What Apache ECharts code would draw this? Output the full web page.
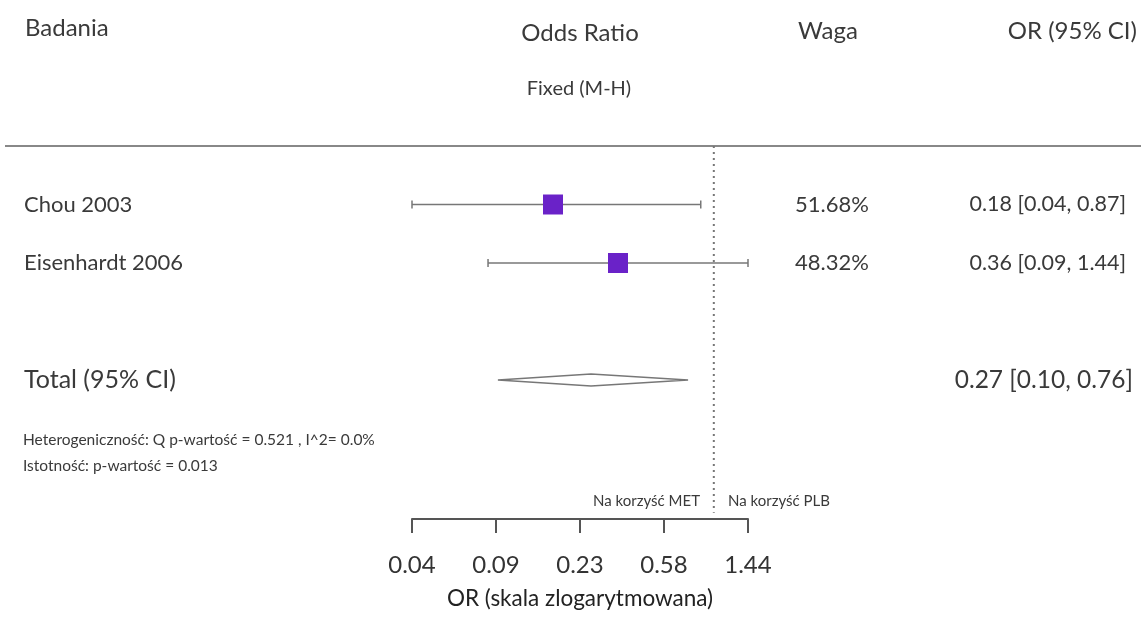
<!DOCTYPE html>
<html lang="pl">
<head>
<meta charset="UTF-8">
<style>
    html, body { height: 100%; margin: 0; background: #fff; }
</style>
</head>
<body>
<div id="chart" style="width:1141px;height:623px;"></div>
<script src="https://cdn.jsdelivr.net/npm/echarts@6/dist/echarts.min.js"></script>
<script>
    // dane z wykresu
    var studies = ['Chou 2003', 'Eisenhardt 2006'];
    var orValues = [0.18, 0.36];
    var ciLow = [0.04, 0.09];
    var ciHigh = [0.87, 1.44];
    var weights = ['51.68%', '48.32%'];
    var orLabels = ['0.18 [0.04, 0.87]', '0.36 [0.09, 1.44]'];
    var studyRows = [1, 2];

    var totalOR = 0.27, totalLow = 0.10, totalHigh = 0.76;
    var totalLabel = '0.27 [0.10, 0.76]';
    var totalRow = 4;

    var axisMinOR = 0.04, axisMaxOR = 1.44;
    var tickLabels = ['0.04', '0.09', '0.23', '0.58', '1.44'];

    var FONT = 'Lato, "Open Sans", sans-serif';
    var TXT = '#3a3a3a';

    // pozycja na osi (skala logarytmiczna, 4 przedziały)
    function pos(or) {
        return Math.log(or / axisMinOR) / Math.log(axisMaxOR / axisMinOR) * 4;
    }

    var studyData = studies.map(function (s, i) {
        return [pos(ciLow[i]), pos(orValues[i]), pos(ciHigh[i]), studyRows[i], i];
    });

    function txt(x, y, text, size, align) {
        return {
            type: 'text', x: x, y: y,
            style: { text: text, fontSize: size, fill: TXT, fontFamily: FONT, align: align || 'left', verticalAlign: 'middle' }
        };
    }

    var myChart = echarts.init(document.getElementById('chart'));
    myChart.setOption({
        animation: false,
        grid: { left: 412, right: 393, top: 146, bottom: 104 },
        xAxis: {
            type: 'value',
            position: 'bottom',
            min: 0,
            max: 4,
            interval: 1,
            splitLine: { show: false },
            axisLine: { onZero: false, lineStyle: { color: '#555', width: 2 } },
            axisTick: { length: 14, lineStyle: { color: '#555', width: 2 } },
            axisLabel: {
                margin: 34,
                fontSize: 24,
                color: '#333',
                fontFamily: FONT,
                formatter: function (v) { return tickLabels[Math.round(v)]; }
            },
            name: 'OR (skala zlogarytmowana)',
            nameLocation: 'middle',
            nameGap: 68,
            nameTextStyle: { fontSize: 22.5, color: '#222', fontFamily: FONT }
        },
        yAxis: { type: 'value', min: 0, max: 6.376, inverse: true, show: false },
        graphic: [
            { type: 'line', shape: { x1: 5, y1: 146, x2: 1141, y2: 146 }, style: { stroke: '#888', lineWidth: 2 } },
            txt(25, 28, 'Badania', 24),
            txt(580, 33, 'Odds Ratio', 24, 'center'),
            txt(828, 31, 'Waga', 24, 'center'),
            txt(1137, 31, 'OR (95% CI)', 24, 'right'),
            txt(579, 89, 'Fixed (M-H)', 20, 'center'),
            txt(23, 440, 'Heterogeniczność: Q p-wartość = 0.521 , I^2= 0.0%', 15.5),
            txt(23, 466, 'Istotność: p-wartość = 0.013', 15.5),
            txt(700, 501, 'Na korzyść MET', 15, 'right'),
            txt(728, 501, 'Na korzyść PLB', 15)
        ],
        series: [
            {
                // linia braku efektu (OR = 1)
                type: 'line',
                data: [[pos(1), 0], [pos(1), 6.27]],
                symbol: 'none',
                lineStyle: { color: '#777', width: 2, type: [2, 4] },
                silent: true
            },
            {
                type: 'custom',
                data: studyData,
                renderItem: function (params, api) {
                    var lo = api.coord([api.value(0), api.value(3)]);
                    var pt = api.coord([api.value(1), api.value(3)]);
                    var hi = api.coord([api.value(2), api.value(3)]);
                    var i = api.value(4);
                    var y = pt[1];
                    var sz = 20;
                    var lineStyle = { stroke: '#777', lineWidth: 1.5 };
                    return {
                        type: 'group',
                        children: [
                            { type: 'line', shape: { x1: lo[0], y1: y, x2: hi[0], y2: y }, style: lineStyle },
                            { type: 'line', shape: { x1: lo[0], y1: y - 4, x2: lo[0], y2: y + 4 }, style: lineStyle },
                            { type: 'line', shape: { x1: hi[0], y1: y - 4, x2: hi[0], y2: y + 4 }, style: lineStyle },
                            { type: 'rect', shape: { x: pt[0] - sz / 2, y: y - sz / 2, width: sz, height: sz }, style: { fill: '#6a22c8' } },
                            txt(24, y, studies[i], 22),
                            txt(832, y, weights[i], 22, 'center'),
                            txt(1126, y, orLabels[i], 21.5, 'right')
                        ]
                    };
                }
            },
            {
                type: 'custom',
                data: [[pos(totalLow), pos(totalOR), pos(totalHigh), totalRow]],
                renderItem: function (params, api) {
                    var lo = api.coord([api.value(0), api.value(3)]);
                    var pt = api.coord([api.value(1), api.value(3)]);
                    var hi = api.coord([api.value(2), api.value(3)]);
                    var y = pt[1];
                    return {
                        type: 'group',
                        children: [
                            {
                                type: 'polygon',
                                shape: { points: [[lo[0], y], [pt[0], y - 6], [hi[0], y], [pt[0], y + 6]] },
                                style: { fill: '#fff', stroke: '#777', lineWidth: 1.5 }
                            },
                            txt(24, y, 'Total (95% CI)', 25),
                            txt(1133, y, totalLabel, 24.5, 'right')
                        ]
                    };
                }
            }
        ]
    });
</script>
</body>
</html>
